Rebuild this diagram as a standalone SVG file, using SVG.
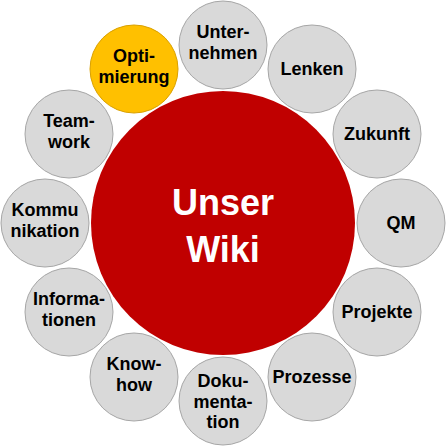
<svg xmlns="http://www.w3.org/2000/svg" width="446" height="446" viewBox="0 0 446 446">
<style>
.s{fill:#d9d9d9;stroke:#a6a6a6;stroke-width:1}
.o{fill:#ffc000;stroke:#d9a000;stroke-width:1}
.t{font-family:"Liberation Sans",Arial,sans-serif;font-weight:bold;font-size:18px;fill:#000;text-anchor:middle}
.c{font-family:"Liberation Sans",Arial,sans-serif;font-weight:bold;font-size:36px;fill:#fff;text-anchor:middle}
</style>
<rect width="446" height="446" fill="#fff"/>
<g id="connectors"></g>
<g id="center"><circle cx="223" cy="223" r="132" fill="#c00000"/><text class="c" x="223" y="215">Unser</text><text class="c" x="223" y="262">Wiki</text></g>
<g id="n1"><circle class="s" cx="223" cy="45" r="44"/><text class="t" x="223" y="38">Unter-</text><text class="t" x="223" y="59">nehmen</text></g>
<g id="n2"><circle class="s" cx="312" cy="69" r="44"/><text class="t" x="312" y="75">Lenken</text></g>
<g id="n3"><circle class="s" cx="377" cy="134" r="44"/><text class="t" x="377" y="140">Zukunft</text></g>
<g id="n4"><circle class="s" cx="401" cy="223" r="44"/><text class="t" x="401" y="229">QM</text></g>
<g id="n5"><circle class="s" cx="377" cy="312" r="44"/><text class="t" x="377" y="318">Projekte</text></g>
<g id="n6"><circle class="s" cx="312" cy="377" r="44"/><text class="t" x="312" y="383">Prozesse</text></g>
<g id="n7"><circle class="s" cx="223" cy="401" r="44"/><text class="t" x="223" y="387">Doku-</text><text class="t" x="223" y="408">menta-</text><text class="t" x="223" y="428">tion</text></g>
<g id="n8"><circle class="s" cx="134" cy="377" r="44"/><text class="t" x="134" y="370">Know-</text><text class="t" x="134" y="391">how</text></g>
<g id="n9"><circle class="s" cx="69" cy="312" r="44"/><text class="t" x="69" y="305">Informa-</text><text class="t" x="69" y="326">tionen</text></g>
<g id="n10"><circle class="s" cx="45" cy="223" r="44"/><text class="t" x="45" y="216">Kommu</text><text class="t" x="45" y="237">nikation</text></g>
<g id="n11"><circle class="s" cx="69" cy="134" r="44"/><text class="t" x="69" y="127">Team-</text><text class="t" x="69" y="148">work</text></g>
<g id="n12"><circle class="o" cx="134" cy="69" r="44"/><text class="t" x="134" y="62">Opti-</text><text class="t" x="134" y="83">mierung</text></g>
</svg>
